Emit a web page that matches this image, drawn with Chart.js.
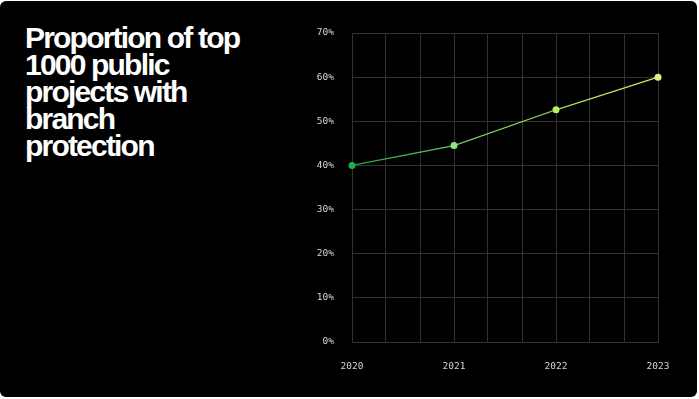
<!DOCTYPE html>
<html>
<head>
<meta charset="utf-8">
<script src="https://cdn.jsdelivr.net/npm/chart.js@4"></script>
<style>
  body { margin: 0; background: #fff; }
  #card {
    position: absolute; left: 0; top: 1px; width: 697px; height: 396px;
    background: #000; border-radius: 6px;
  }
  #title {
    position: absolute; left: 25px; top: 24px; margin: 0;
    width: 260px;
    font-family: "Liberation Sans", Arial, sans-serif;
    font-weight: 700; font-size: 30px; line-height: 27px;
    letter-spacing: -1.8px; color: #fff;
  }
  #chart { position: absolute; left: 300px; top: 0; }
</style>
</head>
<body>
<div id="card"></div>
<h1 id="title">Proportion of top<br>1000 public<br>projects with<br>branch<br>protection</h1>
<canvas id="chart" width="397" height="397"></canvas>
<script>
const years = [2020, 2021, 2022, 2023];
const protectedShare = [40, 44.5, 52.6, 60];
const yTicks = [0, 10, 20, 30, 40, 50, 60, 70];

const pointColors = ['#1fae4b', '#8fe681', '#b9ef63', '#dff08a'];
const gridColor = '#323232';
const tickFont = { family: '"DejaVu Sans Mono", monospace', size: 9.5 };

function lineGradient(context) {
    const chart = context.chart;
    const area = chart.chartArea;
    if (!area) return '#7acb5a';
    const g = chart.ctx.createLinearGradient(area.left, 0, area.right, 0);
    g.addColorStop(0, '#1f9e46');
    g.addColorStop(0.35, '#6fcf62');
    g.addColorStop(1, '#d3e86c');
    return g;
}

const ctx = document.getElementById('chart').getContext('2d');
const shareChart = new Chart(ctx, {
    type: 'line',
    data: {
        datasets: [{
            label: 'Branch protection',
            data: years.map((yr, i) => ({ x: yr, y: protectedShare[i] })),
            borderColor: lineGradient,
            borderWidth: 1.2,
            pointRadius: 3.5,
            pointHoverRadius: 3.5,
            pointBorderWidth: 0,
            pointBackgroundColor: pointColors,
            tension: 0,
            clip: false
        }]
    },
    options: {
        responsive: false,
        animation: false,
        layout: { padding: { top: 33, right: 39, bottom: 0, left: 0 } },
        scales: {
            x: {
                type: 'linear',
                min: years[0],
                max: years[years.length - 1],
                grid: { color: gridColor, drawTicks: false },
                border: { color: gridColor },
                ticks: {
                    stepSize: 1 / 3,
                    autoSkip: false,
                    maxRotation: 0,
                    padding: 19,
                    color: '#d4d4d4',
                    font: tickFont,
                    callback: v => Math.abs(v - Math.round(v)) < 1e-6 ? String(Math.round(v)) : ''
                },
                afterFit: s => { s.height = 55; }
            },
            y: {
                min: yTicks[0],
                max: yTicks[yTicks.length - 1],
                grid: { color: gridColor, drawTicks: false },
                border: { color: gridColor },
                ticks: {
                    stepSize: 10,
                    padding: 18,
                    color: '#d4d4d4',
                    font: tickFont,
                    callback: v => v + '%'
                },
                afterFit: s => { s.width = 52; }
            }
        },
        plugins: {
            legend: { display: false },
            tooltip: { enabled: false }
        }
    }
});
</script>
</body>
</html>
